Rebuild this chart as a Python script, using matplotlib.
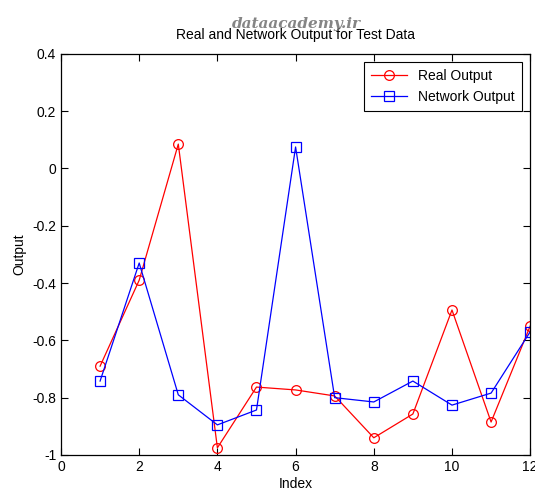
import matplotlib
matplotlib.use("Agg")
import matplotlib.pyplot as plt

# ── Data ──────────────────────────────────────────────────
index = list(range(1, 13))
real_output = [-0.69, -0.39, 0.085, -0.975, -0.763, -0.773, -0.794, -0.94, -0.857, -0.494, -0.885, -0.55]
network_output = [-0.742, -0.33, -0.79, -0.895, -0.843, 0.075, -0.80, -0.815, -0.742, -0.826, -0.784, -0.57]

plt.rcParams["font.family"] = ["Liberation Sans", "DejaVu Sans"]
plt.rcParams["font.size"] = 10

fig = plt.figure(figsize=(5.35, 4.94), dpi=100)
ax = fig.add_axes([0.114, 0.079, 0.877, 0.812])

ax.plot(index, real_output, "r-o", lw=0.9, ms=7, mfc="none", mew=0.9, label="Real Output")
ax.plot(index, network_output, "b-s", lw=0.9, ms=7, mfc="none", mew=0.9, label="Network Output")

ax.set_xlim(0, 12)
ax.set_ylim(-1, 0.4)
ax.set_xticks(range(0, 13, 2))
ax.set_yticks([-1, -0.8, -0.6, -0.4, -0.2, 0, 0.2, 0.4])
ax.set_yticklabels(["-1", "-0.8", "-0.6", "-0.4", "-0.2", "0", "0.2", "0.4"])
ax.tick_params(direction="in", top=True, right=True, length=5, width=0.8)
for s in ax.spines.values():
    s.set_linewidth(0.9)

ax.set_xlabel("Index", labelpad=2)
ax.set_ylabel("Output", labelpad=4)
ax.set_title("Real and Network Output for Test Data", fontsize=10, pad=11)

leg = ax.legend(loc="upper right", fancybox=False, edgecolor="black",
                framealpha=1, borderpad=0.5, handlelength=2.6, fontsize=10,
                borderaxespad=0.6)
leg.get_frame().set_linewidth(0.8)

# watermark
fig.text(0.553, 0.951, "dataacademy.ir", ha="center", va="center", fontsize=11,
         family="DejaVu Serif", style="italic", weight="bold", color="#707070", alpha=0.85)

fig.savefig("out.png", dpi=100)
